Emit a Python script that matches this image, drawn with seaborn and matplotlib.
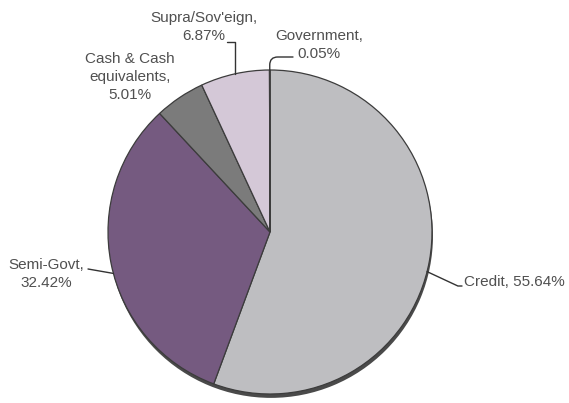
import seaborn as sns
import matplotlib.pyplot as plt
import numpy as np

# portfolio breakdown
categories = ["Credit", "Semi-Govt", "Cash & Cash\nequivalents", "Supra/Sov'eign", "Government"]
shares = [55.64, 32.42, 5.01, 6.87, 0.05]
slice_colors = ["#bebec1", "#755a80", "#7b7b7b", "#d4c8d7", "#c8c8cb"]

sns.set_theme(style="white")
plt.rcParams['font.family'] = ['Liberation Sans', 'DejaVu Sans']

fig = plt.figure(figsize=(5.69, 4.03), dpi=100)
ax = fig.add_axes([0, 0, 1, 1])

# pixel -> data helper (pie centre at 270,232 px, radius 162 px)
R = 162.0
def px(x, y):
    return ((x - 270) / R, (232 - y) / R)

# dark rim under the pie (fake 3d shadow)
ax.pie([sum(shares)], colors=["#4a4a4a"], radius=1.0, center=(0.006, -0.024),
       wedgeprops=dict(edgecolor="none"))
wedges, _ = ax.pie(shares, colors=slice_colors, startangle=90, counterclock=False,
                   radius=1.0, wedgeprops=dict(edgecolor="#3c3c3c", linewidth=0.9))

x0, y1 = px(0, 0)
x1, y0 = px(569, 403)
ax.set_xlim(x0, x1)
ax.set_ylim(y0, y1)
ax.set_aspect("equal")
ax.axis("off")

def edge(w, shift=0.0):
    ang = np.deg2rad((w.theta1 + w.theta2) / 2 + shift)
    return (np.cos(ang), np.sin(ang))

txt = dict(color="#505050", fontsize=11, linespacing=1.38)
line = dict(arrowstyle="-", color="#333333", lw=1.0, shrinkA=0, shrinkB=0)

# Credit
ax.text(*px(464, 282), f"{categories[0]}, {shares[0]:.2f}%", ha="left", va="center", **txt)
ax.annotate("", xy=edge(wedges[0], -4), xytext=px(462, 286),
            arrowprops=dict(connectionstyle="angle,angleA=0,angleB=-25,rad=0", **line))

# Semi-Govt
ax.text(*px(46, 274), f"{categories[1]},\n{shares[1]:.2f}%", ha="center", va="center", **txt)
ax.annotate("", xy=edge(wedges[1], 3.5), xytext=px(88, 269), arrowprops=line)

# Cash
ax.text(*px(130, 77), f"{categories[2]},\n{shares[2]:.2f}%", ha="center", va="center", **txt)

# Supra
ax.text(*px(204, 27), f"{categories[3]},\n{shares[3]:.2f}%", ha="center", va="center", **txt)
ax.annotate("", xy=edge(wedges[3]), xytext=px(227, 42),
            arrowprops=dict(connectionstyle="angle,angleA=0,angleB=90,rad=0", **line))

# Government
ax.text(*px(319, 45), f"{categories[4]},\n{shares[4]:.2f}%", ha="center", va="center", **txt)
ax.annotate("", xy=edge(wedges[4]), xytext=px(293, 57),
            arrowprops=dict(connectionstyle="angle,angleA=0,angleB=90,rad=8", **line))

fig.savefig("out.png", dpi=100)
